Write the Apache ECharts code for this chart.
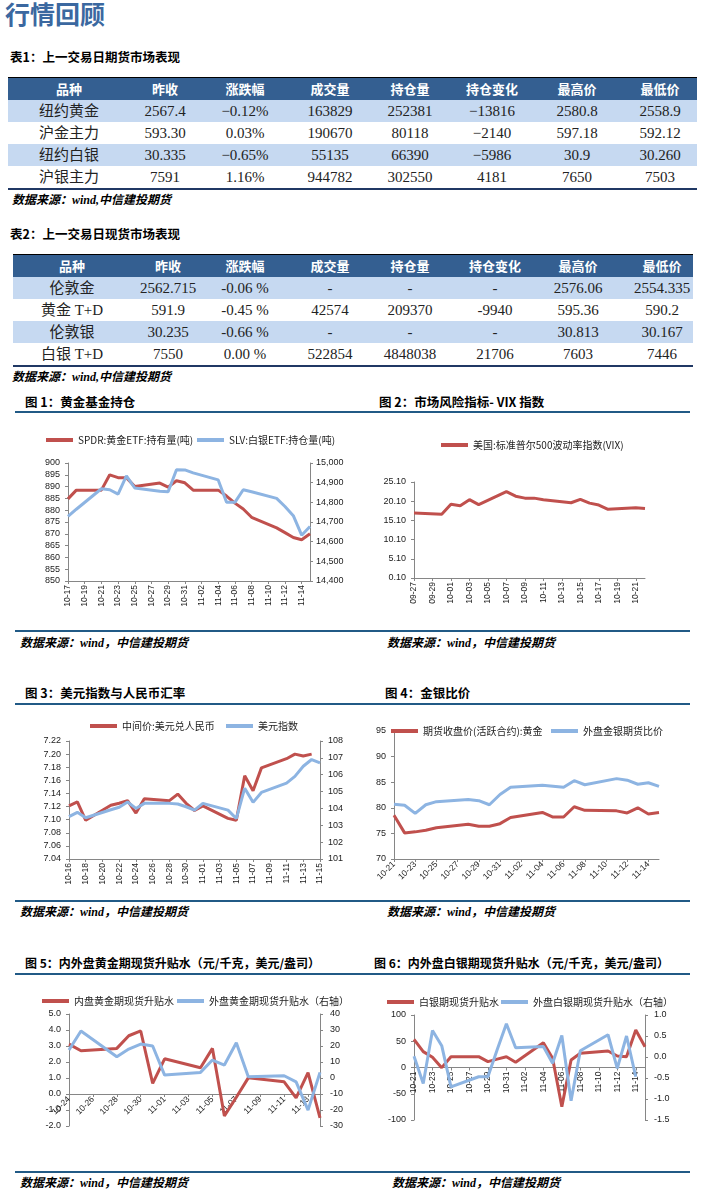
<!DOCTYPE html>
<html><head><meta charset="utf-8">
<script src="https://cdn.jsdelivr.net/npm/echarts/dist/echarts.min.js"></script>
<style>
body{margin:0;background:#fff;}
#page{position:relative;width:704px;height:1198px;overflow:hidden;font-family:"Noto Sans CJK SC",sans-serif;}
.abs{position:absolute;white-space:nowrap;}
.pageTitle{font-size:25px;font-weight:bold;color:#3b68a0;line-height:30px;}
.tblTitle{font-size:12.5px;font-weight:bold;color:#000;line-height:16px;}
.src{font-family:"Liberation Serif","Noto Sans CJK SC",serif;font-size:12px;font-weight:bold;font-style:italic;color:#000;line-height:16px;}
.cell{position:absolute;width:140px;text-align:center;white-space:nowrap;line-height:22px;}
.hcell{color:#fff;font-weight:bold;font-size:13px;font-family:"Noto Sans CJK SC",sans-serif;}
.bcell{color:#222;font-size:15px;font-family:"Liberation Serif","Noto Sans CJK SC",serif;}
.secTitle{font-size:12.5px;font-weight:bold;color:#000;line-height:16px;}
.chart{position:absolute;}
</style></head>
<body><div id="page"></div>
<script>
// ---------------- DATA ----------------
const table1Title = '表1：上一交易日期货市场表现';
const table2Title = '表2：上一交易日现货市场表现';
const tableHeader = ['品种','昨收','涨跌幅','成交量','持仓量','持仓变化','最高价','最低价'];
const table1Rows = [
  ['纽约黄金','2567.4','−0.12%','163829','252381','−13816','2580.8','2558.9'],
  ['沪金主力','593.30','0.03%','190670','80118','−2140','597.18','592.12'],
  ['纽约白银','30.335','−0.65%','55135','66390','−5986','30.9','30.260'],
  ['沪银主力','7591','1.16%','944782','302550','4181','7650','7503']
];
const table2Rows = [
  ['伦敦金','2562.715','-0.06 %','-','-','-','2576.06','2554.335'],
  ['黄金 T+D','591.9','-0.45 %','42574','209370','-9940','595.36','590.2'],
  ['伦敦银','30.235','-0.66 %','-','-','-','30.813','30.167'],
  ['白银 T+D','7550','0.00 %','522854','4848038','21706','7603','7446']
];

// Chart 1
const c1Dates = ['10-17','10-18','10-19','10-20','10-21','10-22','10-23','10-24','10-25','10-26','10-27','10-28','10-29','10-30','10-31','11-01','11-02','11-03','11-04','11-05','11-06','11-07','11-08','11-09','11-10','11-11','11-12','11-13','11-14','11-15'];
const spdrHold = [884.8,888.5,null,null,888.5,895.0,893.8,893.8,890.0,null,null,891.5,889.8,892.5,891.6,888.5,null,null,888.5,886.0,883.0,880.5,877.0,null,null,872.5,870.5,868.4,867.5,870.0];
const slvHold = [14728,14765,null,null,14869,14864,14842,14935,14873,null,null,14856,14854,14966,14965,14950,null,null,14914,14800,14800,14864,14854,null,null,14820,14779,14732,14633,14677];

// Chart 2
const c2Dates = ['09-27','09-28','09-29','09-30','10-01','10-02','10-03','10-04','10-05','10-06','10-07','10-08','10-09','10-10','10-11','10-12','10-13','10-14','10-15','10-16','10-17','10-18','10-19','10-20','10-21','10-22'];
const vix = [17.0,null,null,16.7,19.3,18.9,20.5,19.2,null,null,22.6,21.4,20.9,20.9,20.5,null,null,19.7,20.6,19.6,19.1,18.0,null,null,18.4,18.2];

// Chart 3
const c3Dates = ['10-16','10-17','10-18','10-19','10-20','10-21','10-22','10-23','10-24','10-25','10-26','10-27','10-28','10-29','10-30','10-31','11-01','11-02','11-03','11-04','11-05','11-06','11-07','11-08','11-09','11-10','11-11','11-12','11-13','11-14','11-15'];
const usdCny = [7.121,7.127,7.099,null,null,7.122,7.125,7.129,7.110,7.132,null,null,7.129,7.139,7.125,7.114,7.121,null,null,7.102,7.099,7.167,7.144,7.179,null,null,7.193,7.200,7.197,7.200,null];
const dxy = [103.51,103.77,103.45,null,null,103.92,104.07,104.38,104.0,104.3,null,null,104.3,104.26,104.1,103.9,104.3,null,null,103.9,103.4,105.2,104.36,104.95,null,null,105.5,105.9,106.5,106.9,106.7];

// Chart 4
const c4Dates = ['10-21','10-22','10-23','10-24','10-25','10-26','10-27','10-28','10-29','10-30','10-31','11-01','11-02','11-03','11-04','11-05','11-06','11-07','11-08','11-09','11-10','11-11','11-12','11-13','11-14','11-15'];
const gsRatioDom = [78.55,75.1,75.3,75.6,76.1,null,null,76.8,76.4,76.4,76.9,78.1,null,null,79.1,78.2,78.2,80.2,79.5,null,null,79.4,79.0,80.0,78.8,79.1];
const gsRatioExt = [80.7,80.5,78.9,80.6,81.2,null,null,81.6,81.4,80.6,82.6,84.0,null,null,84.4,84.2,84.0,85.3,84.5,null,null,85.7,85.4,84.6,84.9,84.2];

// Chart 5
const c5Dates = ['10-24','10-25','10-26','10-27','10-28','10-29','10-30','10-31','11-01','11-02','11-03','11-04','11-05','11-06','11-07','11-08','11-09','11-10','11-11','11-12','11-13','11-14'];
const auBasisDom = [3.12,2.70,null,null,2.85,3.64,3.94,0.66,2.20,null,null,1.64,2.85,-1.37,-0.2,1.01,null,null,0.76,-0.24,1.33,-1.49];
const auBasisExt = [17.5,29.4,null,null,13.3,18.1,21.2,20.0,1.8,null,null,3.5,11.2,8.1,22.0,0.8,null,null,1.4,-2.4,-20.1,3.5];

// Chart 6
const c6Dates = ['10-21','10-22','10-23','10-24','10-25','10-26','10-27','10-28','10-29','10-30','10-31','11-01','11-02','11-03','11-04','11-05','11-06','11-07','11-08','11-09','11-10','11-11','11-12','11-13','11-14','11-15'];
const agBasisDom = [53.7,30.2,19.4,-0.3,20.6,null,null,20.6,11.1,16.0,20.6,10.0,null,null,47.3,17.5,-74.6,14.3,27.0,null,null,31.4,21.9,20.6,71.4,39.7];
const agBasisExt = [0.02,-0.63,0.63,0.27,-0.71,null,null,-0.47,-0.47,0.17,0.79,0.22,null,null,0.25,-0.15,0.51,-1.04,0.15,null,null,0.53,-0.27,0.50,-0.47,null];

// ---------------- PAGE TEXT / TABLES ----------------
const page = document.getElementById('page');
function addDiv(cls, text, left, top, style) {
  const d = document.createElement('div');
  d.className = cls; d.textContent = text;
  d.style.left = left + 'px'; d.style.top = top + 'px';
  if (style) Object.assign(d.style, style);
  page.appendChild(d); return d;
}
function addBox(left, top, width, height, bg) {
  const d = document.createElement('div');
  Object.assign(d.style, {position:'absolute', left:left+'px', top:top+'px', width:width+'px', height:height+'px', background:bg});
  page.appendChild(d);
}
addDiv('abs pageTitle', '行情回顾', 5, -2);

function drawTable(title, titleY, rows, x0, x1, top, centers) {
  addDiv('abs tblTitle', title, 10, titleY - 8);
  addBox(x0, top - 1, x1 - x0, 1, '#000');
  addBox(x0, top, x1 - x0, 22, '#345f91');
  tableHeader.forEach((h, i) => addDiv('cell hcell', h, centers[i] - 70, top));
  rows.forEach((r, ri) => {
    const y = top + 22 * (ri + 1);
    if (ri % 2 === 0) addBox(x0, y, x1 - x0, 22, '#c6d9f1');
    r.forEach((v, i) => addDiv('cell bcell', v, centers[i] - 70, y));
  });
  addBox(x0, top + 22 * 5, x1 - x0, 2, '#203864');
  addDiv('abs src', '数据来源：wind,中信建投期货', 12, top + 22 * 5 + 4);
}
drawTable(table1Title, 57, table1Rows, 8, 697, 78, [69,165,245,330,410,492,577,660]);
drawTable(table2Title, 234, table2Rows, 13, 693, 255, [72,168,245,330,410,495,578,662]);

// section headers, rules, sources
const sections = [
  {t:'图 1：黄金基金持仓', x:25, y:402, r0:15, r1:352, ry:411, by:630, sx:20, sy:643},
  {t:'图 2：市场风险指标- VIX 指数', x:379, y:402, r0:352, r1:690, ry:411, by:630, sx:387, sy:643},
  {t:'图 3：美元指数与人民币汇率', x:25, y:693, r0:15, r1:352, ry:703, by:900, sx:20, sy:912},
  {t:'图 4：金银比价', x:385, y:693, r0:352, r1:690, ry:703, by:900, sx:387, sy:912},
  {t:'图 5：内外盘黄金期现货升贴水（元/千克，美元/盎司）', x:25, y:963, r0:15, r1:352, ry:973, by:1171, sx:20, sy:1183},
  {t:'图 6：内外盘白银期现货升贴水（元/千克，美元/盎司）', x:374, y:963, r0:352, r1:690, ry:973, by:1171, sx:392, sy:1183}
];
sections.forEach(s => {
  addDiv('abs secTitle', s.t, s.x, s.y - 8, s.t.length > 20 ? {fontSize:'12px'} : null);
  addBox(s.r0, s.ry, s.r1 - s.r0, 2, '#215a86');
  addBox(s.r0, s.by, s.r1 - s.r0, 2, '#215a86');
  addDiv('abs src', '数据来源：wind，中信建投期货', s.sx, s.sy - 8);
});

// ---------------- CHARTS ----------------
const C_RED = '#c0504d', C_BLUE = '#8db4e2';
const AXIS_FONT = 'Liberation Sans, Noto Sans CJK SC, sans-serif';
const CJK_FONT = 'Noto Sans CJK SC, sans-serif';
const AX_COLOR = '#868686';

function makeDiv(left, top, w, h) {
  const d = document.createElement('div');
  d.className = 'chart';
  Object.assign(d.style, {left:left+'px', top:top+'px', width:w+'px', height:h+'px'});
  page.appendChild(d);
  return echarts.init(d, null, {renderer:'canvas'});
}
function legendItem(name, left, top) {
  return {data:[name], left:left, top:top, icon:'rect', itemWidth:27, itemHeight:4, itemGap:0, padding:0,
    textStyle:{fontSize:10, color:'#222', fontFamily:CJK_FONT}, selectedMode:false};
}
function dateAxis(data, rotate, offset) {
  return {
    type:'category', data:data, boundaryGap:false, position:'bottom', offset:offset || 0,
    axisLine:{show:true, onZero:false, lineStyle:{color:AX_COLOR, width:1}},
    axisTick:{show:true, interval:1, length:3, lineStyle:{color:AX_COLOR}},
    axisLabel:{interval:1, rotate:rotate, fontSize:8.5, color:'#222', fontFamily:AXIS_FONT, margin:4},
    splitLine:{show:false}, z:1
  };
}
function valAxis(min, max, interval, position, fmt, margin) {
  return {
    type:'value', min:min, max:max, interval:interval, position:position,
    axisLine:{show:true, onZero:false, lineStyle:{color:AX_COLOR, width:1}},
    axisTick:{show:true, length:3, lineStyle:{color:AX_COLOR}},
    axisLabel:{fontSize:9, color:'#222', fontFamily:AXIS_FONT, margin:margin || 8, formatter:fmt},
    splitLine:{show:false}
  };
}
function lineSeries(name, data, color, yAxisIndex) {
  return {name:name, type:'line', data:data, yAxisIndex:yAxisIndex || 0, symbol:'none', showSymbol:false,
    connectNulls:true, lineStyle:{color:color, width:3}, itemStyle:{color:color},
    emphasis:{disabled:true}, z: 2};
}
const comma = v => String(v).replace(/\B(?=(\d{3})+(?!\d))/g, ',');

// Chart 1
makeDiv(0, 415, 352, 212).setOption({
  animation:false,
  legend:[legendItem('SPDR:黄金ETF:持有量(吨)', 46, 20), legendItem('SLV:白银ETF:持仓量(吨)', 197, 20)],
  grid:{left:68, top:48, width:242, height:118},
  xAxis:dateAxis(c1Dates, 90),
  yAxis:[valAxis(850, 900, 5, 'left', v => v), valAxis(14400, 15000, 100, 'right', comma, 6)],
  series:[lineSeries('SPDR:黄金ETF:持有量(吨)', spdrHold, C_RED, 0), lineSeries('SLV:白银ETF:持仓量(吨)', slvHold, C_BLUE, 1)]
});

// Chart 2
makeDiv(352, 415, 352, 212).setOption({
  animation:false,
  legend:[legendItem('美国:标准普尔500波动率指数(VIX)', 89, 25)],
  grid:{left:62, top:67, width:231, height:96},
  xAxis:dateAxis(c2Dates, 90),
  yAxis:[valAxis(0.1, 25.1, 5, 'left', v => v.toFixed(2))],
  series:[lineSeries('美国:标准普尔500波动率指数(VIX)', vix, C_RED, 0)]
});

// Chart 3
makeDiv(0, 706, 352, 193).setOption({
  animation:false,
  legend:[legendItem('中间价:美元兑人民币', 90, 15), legendItem('美元指数', 226, 15)],
  grid:{left:69, top:35, width:251, height:118},
  xAxis:dateAxis(c3Dates, 90),
  yAxis:[valAxis(7.04, 7.22, 0.02, 'left', v => v.toFixed(2)), valAxis(101, 108, 1, 'right', v => v, 8)],
  series:[lineSeries('中间价:美元兑人民币', usdCny, C_RED, 0), lineSeries('美元指数', dxy, C_BLUE, 1)]
});

// Chart 4
makeDiv(352, 706, 352, 193).setOption({
  animation:false,
  legend:[legendItem('期货收盘价(活跃合约):黄金', 39, 20), legendItem('外盘金银期货比价', 199, 20)],
  grid:{left:42, top:25, width:265, height:128},
  xAxis:dateAxis(c4Dates, 45),
  yAxis:[valAxis(70, 95, 5, 'left', v => v)],
  series:[lineSeries('期货收盘价(活跃合约):黄金', gsRatioDom, C_RED, 0), lineSeries('外盘金银期货比价', gsRatioExt, C_BLUE, 0)]
});

// Chart 5 : category axis drawn across the zero level of the left axis (-2..5 over 112px -> 32px above bottom)
makeDiv(0, 976, 352, 194).setOption({
  animation:false,
  legend:[legendItem('内盘黄金期现货升贴水', 42, 20), legendItem('外盘黄金期现货升贴水（右轴）', 177, 20)],
  grid:{left:69, top:38, width:251, height:112},
  xAxis:dateAxis(c5Dates, 45, -32),
  yAxis:[valAxis(-2, 5, 1, 'left', v => v.toFixed(1)), valAxis(-30, 40, 10, 'right', v => v, 10)],
  series:[lineSeries('内盘黄金期现货升贴水', auBasisDom, C_RED, 0), lineSeries('外盘黄金期现货升贴水（右轴）', auBasisExt, C_BLUE, 1)]
});

// Chart 6 : category axis at the middle (zero of -100..100)
makeDiv(352, 976, 352, 194).setOption({
  animation:false,
  legend:[legendItem('白银期现货升贴水', 35, 21), legendItem('外盘白银期现货升贴水（右轴）', 149, 21)],
  grid:{left:62, top:39, width:231, height:105},
  xAxis:dateAxis(c6Dates, 90, -52.5),
  yAxis:[valAxis(-100, 100, 50, 'left', v => v), valAxis(-1.5, 1.0, 0.5, 'right', v => v.toFixed(1), 9)],
  series:[lineSeries('白银期现货升贴水', agBasisDom, C_RED, 0), lineSeries('外盘白银期现货升贴水（右轴）', agBasisExt, C_BLUE, 1)]
});
</script>
</body></html>
